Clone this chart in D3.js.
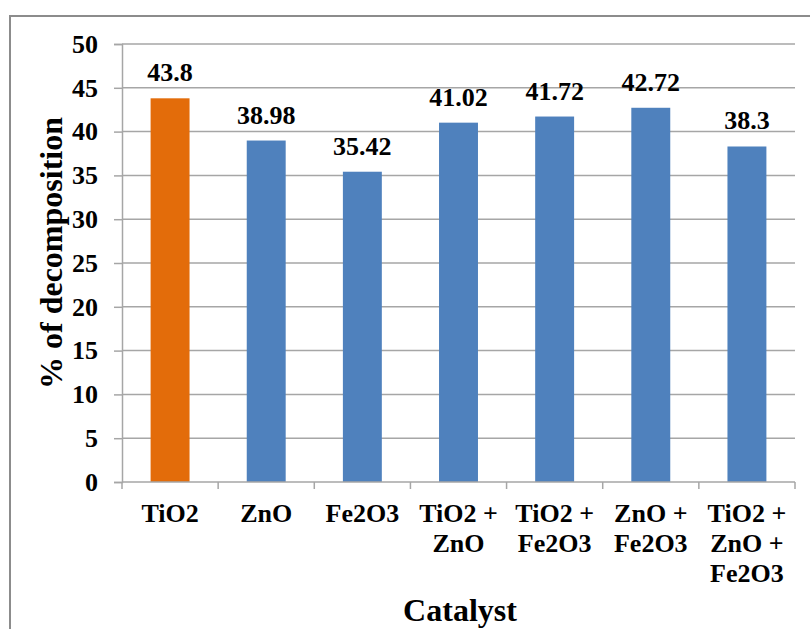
<!DOCTYPE html>
<html><head><meta charset="utf-8">
<script src="https://cdn.jsdelivr.net/npm/d3@7"></script>
<style>body{margin:0;background:#fff}svg{display:block}</style>
</head><body>
<script>
const categories = ["TiO2", "ZnO", "Fe2O3", "TiO2 + ZnO", "TiO2 + Fe2O3", "ZnO + Fe2O3", "TiO2 + ZnO + Fe2O3"];
const values = [43.8, 38.98, 35.42, 41.02, 41.72, 42.72, 38.3];
const labels = ["43.8", "38.98", "35.42", "41.02", "41.72", "42.72", "38.3"];
const barColors = ["#E36C0A", "#4F81BD", "#4F81BD", "#4F81BD", "#4F81BD", "#4F81BD", "#4F81BD"];
const yTicks = [0, 5, 10, 15, 20, 25, 30, 35, 40, 45, 50];
const yTitle = "% of decomposition";
const xTitle = "Catalyst";

(function() {
const W = 810, H = 629;
const mLeft = 122, mRight = 795, mTop = 44, mBottom = 482;
const font = "Times New Roman, Liberation Serif, DejaVu Serif, serif";
const svg = d3.select("body").append("svg").attr("width", W).attr("height", H);

svg.append("rect").attr("x", 10).attr("y", 16).attr("width", 820).attr("height", 640)
  .attr("fill", "none").attr("stroke", "#8c8c8c").attr("stroke-width", 2);

const x = d3.scaleBand().domain(categories).range([mLeft, mRight]).paddingInner(0.595).paddingOuter(0.2975);
const y = d3.scaleLinear().domain([0, 50]).range([mBottom, mTop]);

// gridlines
svg.append("g").selectAll("line").data(yTicks.filter(t => t > 0)).join("line")
  .attr("x1", mLeft).attr("x2", mRight).attr("y1", d => y(d)).attr("y2", d => y(d))
  .attr("stroke", "#a6a6a6").attr("stroke-width", 1.5);

// y axis
const yAxis = svg.append("g").attr("transform", `translate(${mLeft},0)`)
  .call(d3.axisLeft(y).tickValues(yTicks).tickSize(8).tickPadding(16));
yAxis.select(".domain").attr("stroke", "#a6a6a6").attr("stroke-width", 1.5);
yAxis.selectAll(".tick line").attr("stroke", "#a6a6a6").attr("stroke-width", 1.5);
yAxis.selectAll(".tick text").style("font-family", font).style("font-weight", "bold")
  .style("font-size", "26px").attr("fill", "#000");

// bars
svg.append("g").selectAll("rect").data(values).join("rect")
  .attr("x", (d, i) => x(categories[i])).attr("width", x.bandwidth())
  .attr("y", d => y(d)).attr("height", d => y(0) - y(d))
  .attr("fill", (d, i) => barColors[i]);

// x axis
const step = x.step();
svg.append("line").attr("x1", mLeft).attr("x2", mRight).attr("y1", mBottom).attr("y2", mBottom)
  .attr("stroke", "#a6a6a6").attr("stroke-width", 1.5);
svg.append("g").selectAll("line").data(d3.range(categories.length + 1)).join("line")
  .attr("x1", i => mLeft + i * step).attr("x2", i => mLeft + i * step)
  .attr("y1", mBottom).attr("y2", mBottom + 7)
  .attr("stroke", "#a6a6a6").attr("stroke-width", 1.5);

// category labels
function wrap(s) {
  const parts = s.split(" + ");
  return parts.map((p, i) => i < parts.length - 1 ? p + " +" : p);
}
const cat = svg.append("g").selectAll("text").data(categories).join("text")
  .attr("text-anchor", "middle").style("font-family", font).style("font-weight", "bold")
  .style("font-size", "26px").attr("fill", "#000");
cat.each(function(d) {
  const t = d3.select(this);
  wrap(d).forEach((line, i) => {
    t.append("tspan").attr("x", x(d) + x.bandwidth() / 2).attr("y", 522 + i * 30).text(line);
  });
});

// data labels
svg.append("g").selectAll("text").data(values).join("text")
  .attr("x", (d, i) => x(categories[i]) + x.bandwidth() / 2)
  .attr("y", d => y(d) - 17)
  .attr("text-anchor", "middle").style("font-family", font).style("font-weight", "bold")
  .style("font-size", "26px").attr("fill", "#000")
  .text((d, i) => labels[i]);

// titles
svg.append("text").attr("transform", `translate(62,253) rotate(-90)`)
  .attr("text-anchor", "middle").style("font-family", font).style("font-weight", "bold")
  .style("font-size", "32px").attr("fill", "#000").text(yTitle);
svg.append("text").attr("x", 460).attr("y", 621)
  .attr("text-anchor", "middle").style("font-family", font).style("font-weight", "bold")
  .style("font-size", "32px").attr("fill", "#000").text(xTitle);
})();
</script>
</body></html>
